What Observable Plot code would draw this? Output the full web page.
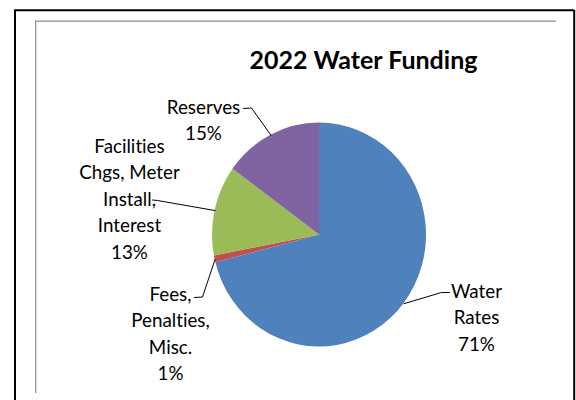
<!DOCTYPE html>
<html>
<head>
<meta charset="utf-8">
<script src="https://cdn.jsdelivr.net/npm/d3@7"></script>
<script src="https://cdn.jsdelivr.net/npm/@observablehq/plot@0.6"></script>
<style>
  html, body { margin: 0; padding: 0; background: #fff; }
  #chart svg { display: block; }
  #chart text { font-variant-ligatures: none; font-feature-settings: "liga" 0; }
</style>
</head>
<body>
<div id="chart"></div>
<script>
// ---- data ----
const categories = ["Water Rates", "Fees, Penalties, Misc.", "Facilities Chgs, Meter Install, Interest", "Reserves"];
const labelLines = [
  ["Water", "Rates"],
  ["Fees,", "Penalties,", "Misc."],
  ["Facilities", "Chgs, Meter", "Install,", "Interest"],
  ["Reserves"]
];
const values = [71, 1, 13, 15];
const colors = ["#4F81BD", "#C0504D", "#9BBB59", "#8064A2"];
const title = "2022 Water Funding";

// ---- layout (pixel positions in the 576x400 canvas) ----
const W = 576, H = 400;
const PIE = {cx: 319, cy: 234.5, rx: 107, ry: 112};
const FONT = "Lato, 'Open Sans', sans-serif";
const LABEL_FS = 18.8, LINE_H = 26.5;
// label center x, first baseline y, leader start & elbow
const labelLayout = [
  {x: 476, y: 291.7, start: [449, 292], elbow: [441, 292]},
  {x: 170, y: 295, start: [194, 297], elbow: [202, 296.5]},
  {x: 129, y: 147, start: [152, 199.5], elbow: [157, 200]},
  {x: 203, y: 108, start: [243, 108], elbow: [251, 107.5]}
];

// ---- derived ----
const total = d3.sum(values);
const slices = categories.map((c, i) => ({name: c, value: values[i], color: colors[i]}));
const arcs = d3.pie().sort(null).value(d => d.value)(slices);

const labels = arcs.map((a, i) => {
  const pct = Math.round(a.data.value / total * 100) + "%";
  return {
    name: a.data.name,
    text: [...labelLines[i], pct].join("\n"),
    x: labelLayout[i].x,
    y: labelLayout[i].y - 0.71 * LABEL_FS
  };
});

const leaders = arcs.flatMap((a, i) => {
  const mid = (a.startAngle + a.endAngle) / 2;
  const px = PIE.cx + PIE.rx * Math.sin(mid);
  const py = PIE.cy - PIE.ry * Math.cos(mid);
  const L = labelLayout[i];
  return [
    {name: a.data.name, x: L.start[0], y: L.start[1]},
    {name: a.data.name, x: L.elbow[0], y: L.elbow[1]},
    {name: a.data.name, x: px, y: py}
  ];
});

function pieMark(index, scales) {
  const cx = scales.x(PIE.cx), cy = scales.y(PIE.cy);
  const rx = scales.x(PIE.cx + PIE.rx) - cx;
  const ry = scales.y(PIE.cy + PIE.ry) - cy;
  const g = d3.create("svg:g")
    .attr("transform", `translate(${cx},${cy}) scale(${rx / ry},1)`);
  const arc = d3.arc().innerRadius(0).outerRadius(ry);
  g.selectAll("path").data(arcs).join("path")
    .attr("d", arc)
    .attr("fill", d => d.data.color);
  return g.node();
}

const chart = Plot.plot({
  width: W,
  height: H,
  margin: 0,
  x: {domain: [0, W], range: [0, W], axis: null},
  y: {domain: [0, H], range: [0, H], axis: null},
  style: {background: "#fff", fontFamily: FONT},
  marks: [
    // outer black frame
    Plot.ruleY([9.7], {x1: 14.5, x2: 573.7, stroke: "#000", strokeWidth: 2}),
    Plot.ruleX([14.5], {y1: 9.7, y2: 400, stroke: "#000", strokeWidth: 2}),
    Plot.ruleX([573.7], {y1: 9.7, y2: 400, stroke: "#000", strokeWidth: 2}),
    // inner grey plot-area border
    Plot.ruleY([20.7], {x1: 35.2, x2: 556, stroke: "#8c8c8c", strokeWidth: 1.2}),
    Plot.ruleX([35.2], {y1: 20.7, y2: 393, stroke: "#8c8c8c", strokeWidth: 1.2}),
    pieMark,
    Plot.line(leaders, {x: "x", y: "y", z: "name", stroke: "#000", strokeWidth: 1, curve: "linear"}),
    Plot.text(labels, {x: "x", y: "y", text: "text", fontSize: LABEL_FS, lineAnchor: "top",
      lineHeight: LINE_H / LABEL_FS, textAnchor: "middle", fill: "#000"}),
    Plot.text([title], {x: () => 363, y: () => 68.5, text: d => d, fontSize: 25, fontWeight: "bold",
      textAnchor: "middle", lineAnchor: "bottom", fill: "#000"})
  ]
});
document.getElementById("chart").appendChild(chart);
</script>
</body>
</html>
